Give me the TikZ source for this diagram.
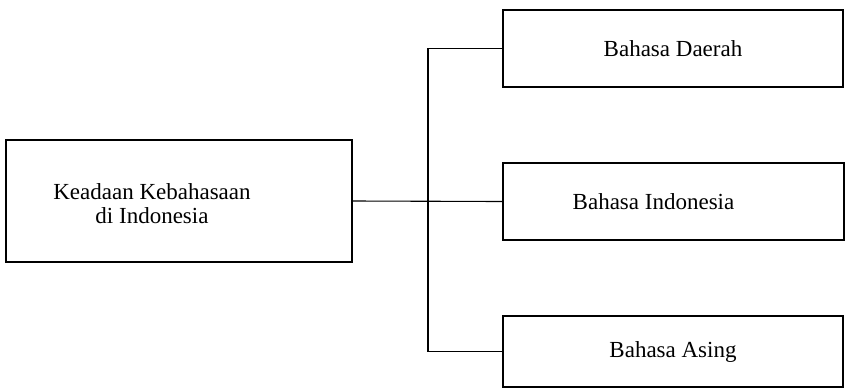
\documentclass[tikz,border=0pt]{standalone}
\usepackage{fontspec}
\setmainfont{Liberation Serif}
\usepackage{tikz}
\usetikzlibrary{positioning}

\tikzset{
    tulisan/.style={font=\fontsize{23}{24}\selectfont},
    kotak/.style={draw, line width=1.3pt, inner sep=0pt, tulisan},
    garis/.style={line width=1.1pt}
}

\begin{document}
\begin{tikzpicture}[x=1pt, y=-1pt]
    \useasboundingbox (0, 0) rectangle (848, 389);
    \node[kotak, minimum width=346pt, minimum height=122pt,
          label={[xshift=-27pt, yshift=-3pt, tulisan, align=center]center:Keadaan Kebahasaan\\di Indonesia}]
          (keadaan) at (179, 201) {};
    \node[kotak, minimum width=340pt, minimum height=77pt] (daerah) at (673, 48.5) {Bahasa Daerah};
    \node[kotak, minimum width=341pt, minimum height=77pt,
          label={[xshift=-20pt, tulisan]center:Bahasa Indonesia}]
          (indonesia) at (673.5, 201.5) {};
    \node[kotak, minimum width=340pt, minimum height=71pt] (asing) at (673, 351.5) {Bahasa Asing};
    \coordinate (cabang) at (428, 201.5);
    \draw[garis] (keadaan.east) -- (indonesia.west);
    \draw[garis] (daerah.west) -| (cabang) |- (asing.west);
\end{tikzpicture}
\end{document}
